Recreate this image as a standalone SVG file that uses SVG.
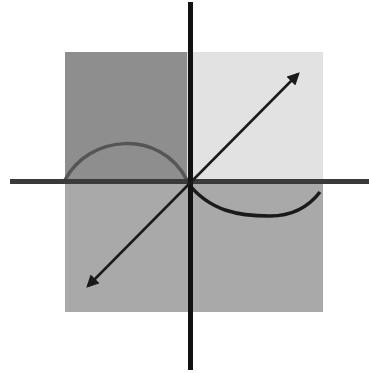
<svg xmlns="http://www.w3.org/2000/svg" width="369" height="373" viewBox="0 0 369 373">
<defs>
<marker id="ah" viewBox="0 0 10 10" refX="8" refY="5" markerWidth="5" markerHeight="5" orient="auto-start-reverse" markerUnits="strokeWidth"><path d="M0,0 L10,5 L0,10 z" fill="#1a1a1a"/></marker>
</defs>
<style>
.axis{stroke-width:5;fill:none}
.diag{stroke:#1a1a1a;stroke-width:2.5;fill:none}
</style>
<rect width="369" height="373" fill="#ffffff"/>
<g id="quadrants">
<rect x="65" y="52" width="122" height="128" fill="#8e8e8e"/>
<rect x="187" y="52" width="136" height="128" fill="#e2e2e2"/>
<rect x="65" y="180" width="258" height="132" fill="#a9a9a9"/>
</g>
<g id="curves">
<path d="M65,180 C88,135 160,128 187,180" fill="none" stroke="#555555" stroke-width="3.5"/>
<path d="M187,182 C210,212 240,216 270,216 C295,216 310,205 320,192" fill="none" stroke="#1a1a1a" stroke-width="3.5"/>
</g>
<g id="connectors">
<line class="axis" x1="10" y1="181.5" x2="369" y2="181.5" stroke="#3a3a3a" stroke-width="5.5"/>
<line class="axis" x1="190.5" y1="2" x2="190.5" y2="370" stroke="#111111"/>
<line class="diag" x1="88" y1="286" x2="298" y2="74" marker-start="url(#ah)" marker-end="url(#ah)"/>
</g>
</svg>
